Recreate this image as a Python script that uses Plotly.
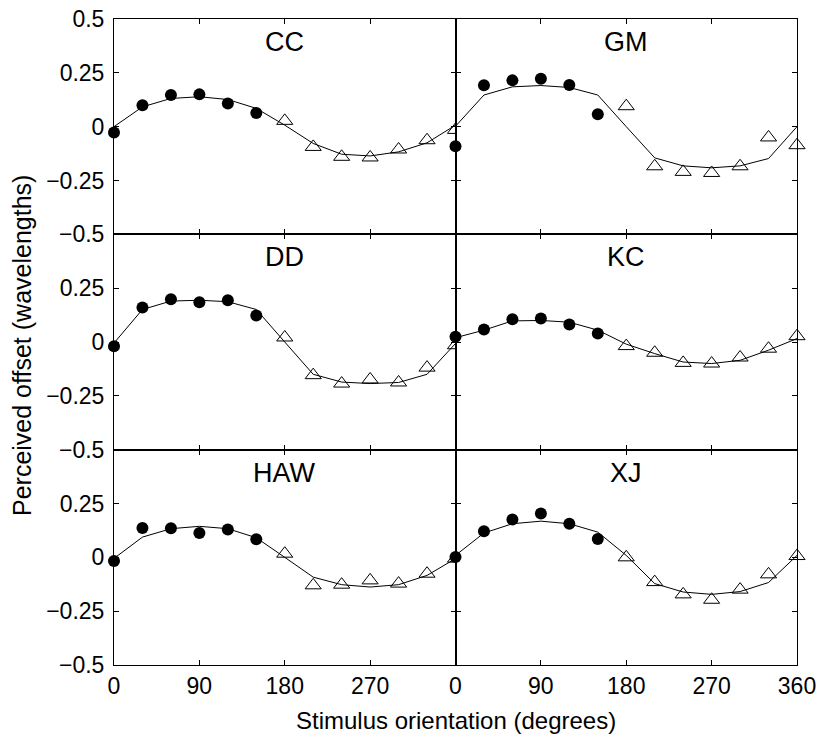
import plotly.graph_objects as go
from plotly.subplots import make_subplots

# stimulus orientations (degrees)
orient = [0, 30, 60, 90, 120, 150, 180, 210, 240, 270, 300, 330, 360]
n_filled = 6  # first six points drawn as filled circles, rest as open triangles

observers = ["CC", "GM", "DD", "KC", "HAW", "XJ"]

# measured offsets (wavelengths)
cc_data = [-0.027, 0.099, 0.147, 0.150, 0.108, 0.064, 0.027, -0.094, -0.140, -0.143, -0.106, -0.063, -0.015]
gm_data = [-0.091, 0.192, 0.215, 0.222, 0.193, 0.058, 0.095, -0.184, -0.210, -0.215, -0.184, -0.050, -0.086]
dd_data = [-0.020, 0.160, 0.199, 0.185, 0.194, 0.123, 0.021, -0.154, -0.193, -0.174, -0.188, -0.119, -0.015]
kc_data = [0.024, 0.058, 0.106, 0.109, 0.081, 0.040, -0.019, -0.050, -0.097, -0.100, -0.072, -0.031, 0.027]
haw_data = [-0.017, 0.136, 0.135, 0.113, 0.129, 0.084, 0.017, -0.130, -0.127, -0.107, -0.122, -0.076, -0.006]
xj_data = [0.001, 0.121, 0.176, 0.203, 0.156, 0.085, 0.000, -0.115, -0.172, -0.197, -0.150, -0.079, 0.006]

# model fits
cc_fit = [0.000, 0.092, 0.131, 0.139, 0.126, 0.085, 0.007, -0.078, -0.128, -0.136, -0.117, -0.075, 0.007]
gm_fit = [0.002, 0.147, 0.185, 0.191, 0.182, 0.147, 0.000, -0.145, -0.182, -0.191, -0.182, -0.148, 0.000]
dd_fit = [-0.005, 0.151, 0.190, 0.194, 0.187, 0.151, 0.000, -0.150, -0.186, -0.193, -0.188, -0.150, -0.007]
kc_fit = [0.020, 0.055, 0.098, 0.100, 0.092, 0.055, -0.010, -0.054, -0.093, -0.100, -0.085, -0.038, 0.016]
haw_fit = [-0.005, 0.094, 0.133, 0.144, 0.133, 0.091, 0.000, -0.092, -0.127, -0.138, -0.127, -0.084, -0.006]
xj_fit = [0.009, 0.113, 0.156, 0.168, 0.156, 0.117, 0.009, -0.122, -0.161, -0.172, -0.159, -0.117, 0.009]

all_data = [cc_data, gm_data, dd_data, kc_data, haw_data, xj_data]
all_fit = [cc_fit, gm_fit, dd_fit, kc_fit, haw_fit, xj_fit]

y_ticks = [-0.5, -0.25, 0, 0.25, 0.5]
y_text_top = ["\u22120.5", "\u22120.25", "0", "0.25", "0.5"]
y_text_low = ["\u22120.5", "\u22120.25", "0", "0.25", ""]
x_ticks_left = [0, 90, 180, 270]
x_ticks_right = [0, 90, 180, 270, 360]

FONT = "Liberation Sans, Arial, Helvetica, sans-serif"

fig = make_subplots(rows=3, cols=2, horizontal_spacing=0, vertical_spacing=0)

for i, name in enumerate(observers):
    row = i // 2 + 1
    col = i % 2 + 1
    data = all_data[i]
    fit = all_fit[i]
    fig.add_trace(go.Scatter(x=orient, y=fit, mode="lines",
                             line=dict(color="black", width=1),
                             showlegend=False, hoverinfo="skip"),
                  row=row, col=col)
    fig.add_trace(go.Scatter(x=orient[n_filled:], y=data[n_filled:], mode="markers",
                             marker=dict(symbol="triangle-up-open", size=14,
                                         color="black", line=dict(width=1)),
                             cliponaxis=(col == 1), showlegend=False),
                  row=row, col=col)
    fig.add_trace(go.Scatter(x=orient[:n_filled], y=data[:n_filled], mode="markers",
                             marker=dict(symbol="circle", size=12, color="black"),
                             cliponaxis=False, showlegend=False),
                  row=row, col=col)

    fig.update_xaxes(range=[0, 360], tickvals=x_ticks_left if col == 1 else x_ticks_right,
                     showticklabels=(row == 3), ticks="inside", ticklen=5,
                     showline=True, linecolor="black", linewidth=1, mirror="ticks",
                     tickcolor="black", showgrid=False, zeroline=False,
                     ticklabeloverflow="allow", automargin=False,
                     tickfont=dict(size=23, color="black", family=FONT),
                     row=row, col=col)
    fig.update_yaxes(range=[-0.5, 0.5], tickvals=y_ticks,
                     ticktext=y_text_top if row == 1 else y_text_low,
                     showticklabels=(col == 1), ticks="inside", ticklen=5,
                     showline=True, linecolor="black", linewidth=1, mirror="ticks",
                     tickcolor="black", showgrid=False, zeroline=False,
                     ticklabelstandoff=4, ticklabeloverflow="allow", automargin=False,
                     tickfont=dict(size=23, color="black", family=FONT),
                     row=row, col=col)

    axis_n = "" if i == 0 else str(i + 1)
    fig.add_annotation(text=name, xref="x%s domain" % axis_n, yref="y%s domain" % axis_n,
                       x=0.5, y=1, yanchor="top", yshift=-6, showarrow=False,
                       font=dict(size=27, color="black", family=FONT))

fig.add_annotation(text="Stimulus orientation (degrees)", xref="paper", yref="paper",
                   x=0.5, y=0, yshift=-40, yanchor="top", showarrow=False,
                   font=dict(size=24, color="black", family=FONT))
fig.add_annotation(text="Perceived offset (wavelengths)", xref="paper", yref="paper",
                   x=0, xshift=-92, xanchor="center", y=0.5, yshift=-4, textangle=-90,
                   showarrow=False,
                   font=dict(size=25, color="black", family=FONT))

fig.update_layout(width=819, height=745, plot_bgcolor="white", paper_bgcolor="white",
                  margin=dict(l=114, r=22, t=19, b=80, autoexpand=False))

# drop the browser's default 8px body margin so the figure fills the window exactly
fig.write_html("out.html", config={"displayModeBar": False},
               post_script="document.body.style.margin='0';document.body.style.overflow='hidden';")
